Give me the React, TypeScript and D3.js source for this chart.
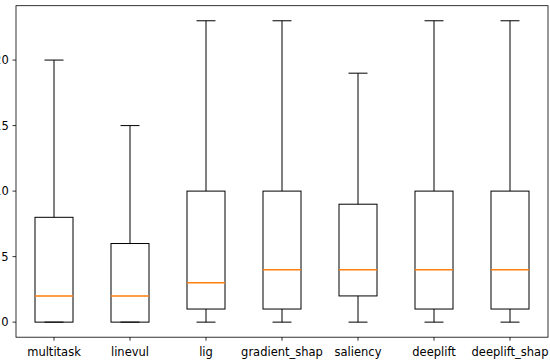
import React from "react";
import * as d3 from "d3";

const categories = ["multitask", "linevul", "lig", "gradient_shap", "saliency", "deeplift", "deeplift_shap"];
const whiskerLow = [0, 0, 0, 0, 0, 0, 0];
const q1Values = [0, 0, 1, 1, 2, 1, 1];
const medianValues = [2, 2, 3, 4, 4, 4, 4];
const q3Values = [8, 6, 10, 10, 9, 10, 10];
const whiskerHigh = [20, 15, 23, 23, 19, 23, 23];
const yTicks = [0, 5, 10, 15, 20];

const W = 550;
const H = 361;
const left = 16;
const right = 548;
const top = 5.7;
const bottom = 337.2;

export default function App() {
  const x = d3.scaleLinear().domain([0.5, categories.length + 0.5]).range([left, right]);
  const yMin = d3.min(whiskerLow) as number;
  const yMax = d3.max(whiskerHigh) as number;
  const pad = (yMax - yMin) * 0.05;
  const y = d3.scaleLinear().domain([yMin - pad, yMax + pad]).range([bottom, top]);
  const boxW = x(1.25) - x(1);
  const capW = x(1.125) - x(1);
  const font = "DejaVu Sans, sans-serif";

  return (
    <svg width={W} height={H} style={{ position: "absolute", left: 0, top: 0, background: "#fff" }} fontFamily={font}>
      <rect x={0} y={0} width={W} height={H} fill="#fff" />
      {categories.map((c, i) => {
        const cx = x(i + 1);
        return (
          <g key={c} stroke="#000" strokeWidth={1} fill="none">
            <rect x={cx - boxW} y={y(q3Values[i])} width={boxW * 2} height={y(q1Values[i]) - y(q3Values[i])} />
            <line x1={cx} x2={cx} y1={y(q1Values[i])} y2={y(whiskerLow[i])} />
            <line x1={cx} x2={cx} y1={y(q3Values[i])} y2={y(whiskerHigh[i])} />
            <line x1={cx - capW} x2={cx + capW} y1={y(whiskerLow[i])} y2={y(whiskerLow[i])} />
            <line x1={cx - capW} x2={cx + capW} y1={y(whiskerHigh[i])} y2={y(whiskerHigh[i])} />
            <line x1={cx - boxW} x2={cx + boxW} y1={y(medianValues[i])} y2={y(medianValues[i])} stroke="#ff7f0e" strokeWidth={1.6} />
          </g>
        );
      })}
      <rect x={left} y={top} width={right - left} height={bottom - top} fill="none" stroke="#000" strokeWidth={0.8} />
      {yTicks.map((t) => (
        <g key={t}>
          <line x1={left - 3.5} x2={left} y1={y(t)} y2={y(t)} stroke="#000" strokeWidth={0.8} />
          <text x={left - 7.3} y={y(t)} dy="0.36em" textAnchor="end" fontSize={11.5} fill="#000">{t}</text>
        </g>
      ))}
      {categories.map((c, i) => (
        <g key={c}>
          <line x1={x(i + 1)} x2={x(i + 1)} y1={bottom} y2={bottom + 3.5} stroke="#000" strokeWidth={0.8} />
          <text x={x(i + 1)} y={355.6} textAnchor="middle" fontSize={11.5} fill="#000">{c}</text>
        </g>
      ))}
    </svg>
  );
}
